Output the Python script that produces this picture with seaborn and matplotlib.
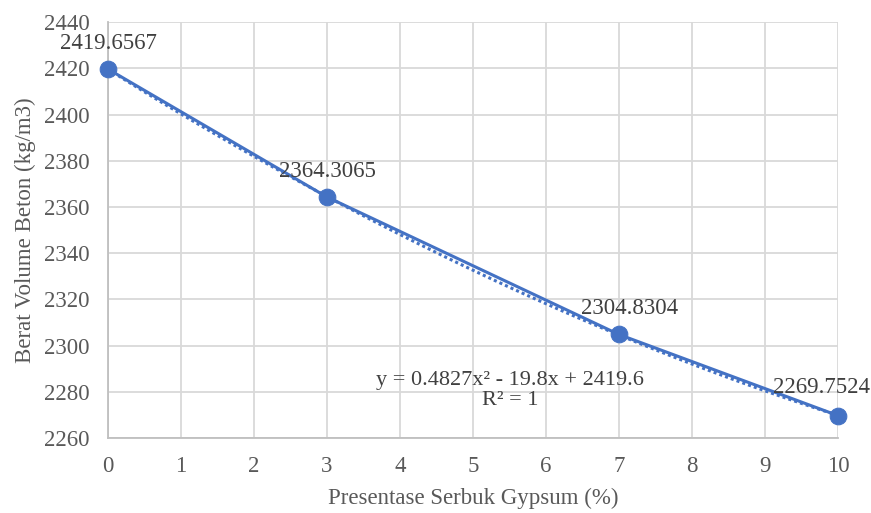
import matplotlib
matplotlib.use("Agg")
import matplotlib.pyplot as plt
import seaborn as sns
import pandas as pd

# data
gypsum_pct = [0, 3, 7, 10]
berat_volume = [2419.6567, 2364.3065, 2304.8304, 2269.7524]
point_labels = ["2419.6567", "2364.3065", "2304.8304", "2269.7524"]
equation = "y = 0.4827x² - 19.8x + 2419.6\nR² = 1"

df = pd.DataFrame({"x": gypsum_pct, "y": berat_volume})

sns.set_style("white")
plt.rcParams["font.family"] = ["Liberation Serif", "DejaVu Serif"]

blue = "#4472C4"
text_col = "#595959"

fig = plt.figure(figsize=(8.71, 5.13), dpi=100)
ax = fig.add_axes([0.124, 0.146, 0.838, 0.811])

# polynomial trendline (dotted)
sns.regplot(x="x", y="y", data=df, order=2, ci=None, scatter=False, truncate=True,
            line_kws={"color": blue, "linestyle": (0, (1, 1)), "linewidth": 2.2}, ax=ax)
# series line with markers
sns.lineplot(x="x", y="y", data=df, color=blue, linewidth=2.2, marker="o",
             markersize=12, markeredgecolor=blue, ax=ax, zorder=3, clip_on=False)

# data labels (offsets in points, text centre relative to marker)
offsets = [(0, 18.5), (0, 18.5), (8, 18.5), (-12, 20.5)]
for x, y, lab, off in zip(gypsum_pct, berat_volume, point_labels, offsets):
    ax.annotate(lab, (x, y), xytext=off, textcoords="offset points",
                ha="center", va="center", fontsize=16.5, color="#404040")

ax.text(5.51, 2280.6, equation, ha="center", va="center", fontsize=16,
        color="#404040", linespacing=1.1)

ax.set_xlim(0, 10)
ax.set_ylim(2260, 2440)
ax.set_xticks(range(0, 11))
ax.set_yticks(range(2260, 2441, 20))
ax.grid(True, color="#D9D9D9", linewidth=1.3)
for s in ["top", "right"]:
    ax.spines[s].set_visible(False)
for s in ["left", "bottom"]:
    ax.spines[s].set_color("#BFBFBF")
    ax.spines[s].set_linewidth(1.3)
ax.tick_params(axis="both", length=0, labelsize=16.5, labelcolor=text_col)
ax.tick_params(axis="x", pad=13)
ax.tick_params(axis="y", pad=13)
ax.set_xlabel("Presentase Serbuk Gypsum (%)", fontsize=16.5, color=text_col, labelpad=8)
ax.set_ylabel("Berat Volume Beton (kg/m3)", fontsize=16.5, color=text_col, labelpad=6)
ax.set_axisbelow(True)

fig.savefig("out.png", dpi=100)
